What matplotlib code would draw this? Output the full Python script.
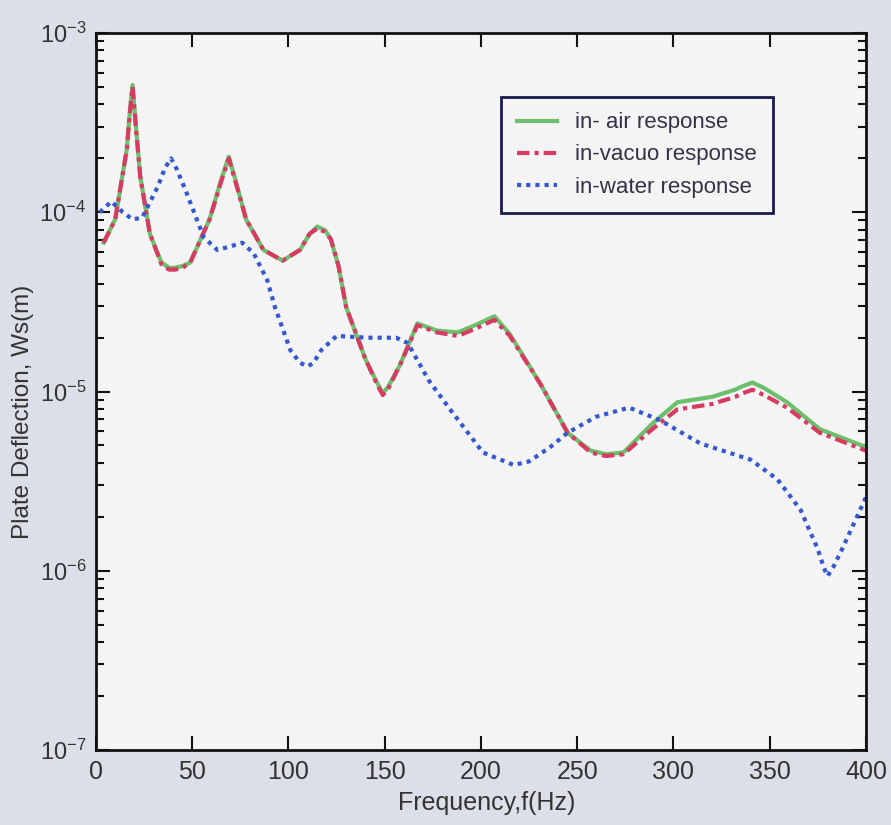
import numpy as np
import matplotlib
matplotlib.use("Agg")
import matplotlib.pyplot as plt
from matplotlib import font_manager
from matplotlib.ticker import LogLocator, FixedLocator, NullFormatter

# pick a narrow face for the tick labels if there is one
names = {f.name for f in font_manager.fontManager.ttflist}
narrow = "Liberation Sans Narrow" if "Liberation Sans Narrow" in names else "Liberation Sans"
plt.rcParams['font.family'] = ['Liberation Sans', 'DejaVu Sans']
plt.rcParams['mathtext.fontset'] = 'custom'
plt.rcParams['mathtext.rm'] = narrow
plt.rcParams['mathtext.it'] = narrow

# data (frequency in Hz, log10 of deflection in m)
f_air = [4, 10, 16, 17.5, 19, 21, 23, 28, 34, 38, 41, 45, 49, 59, 65, 69, 73, 78, 87, 97, 106,
         111, 115, 119, 122, 126, 130, 140, 146, 149, 152, 158, 167, 177, 188, 197, 207, 215,
         231, 245, 257, 265, 274, 289, 302, 320, 332, 336, 341, 347, 359, 376, 400]
lw_air = [-4.17, -4.04, -3.65, -3.45, -3.29, -3.55, -3.80, -4.12, -4.28, -4.31, -4.31, -4.30,
          -4.28, -4.04, -3.82, -3.69, -3.84, -4.04, -4.21, -4.27, -4.21, -4.12, -4.08, -4.10,
          -4.15, -4.30, -4.53, -4.82, -4.95, -5.01, -4.97, -4.85, -4.62, -4.66, -4.67, -4.63,
          -4.58, -4.68, -4.96, -5.23, -5.33, -5.35, -5.34, -5.18, -5.06, -5.03, -4.99, -4.97,
          -4.95, -4.98, -5.06, -5.21, -5.31]
lw_vac = [-4.17, -4.04, -3.65, -3.46, -3.30, -3.56, -3.80, -4.12, -4.29, -4.32, -4.32, -4.31,
          -4.28, -4.04, -3.83, -3.70, -3.85, -4.04, -4.21, -4.27, -4.21, -4.12, -4.09, -4.11,
          -4.15, -4.30, -4.53, -4.82, -4.96, -5.02, -4.98, -4.85, -4.63, -4.67, -4.69, -4.65,
          -4.60, -4.69, -4.96, -5.23, -5.34, -5.36, -5.35, -5.21, -5.10, -5.07, -5.03, -5.01,
          -4.99, -5.02, -5.09, -5.23, -5.33]

f_water = [2, 5, 8, 14, 19, 24, 32, 36, 39, 42, 47, 56, 63, 70, 76, 82, 89, 93, 101, 106, 110,
           113, 117, 125, 141, 156, 162, 173, 184, 201, 217, 225, 236, 245, 260, 277, 293, 314,
           340, 354, 366, 375, 378, 380, 383, 388, 400]
lw_water = [-4.00, -3.97, -3.94, -4.00, -4.04, -4.03, -3.86, -3.75, -3.70, -3.76, -3.89, -4.14,
            -4.21, -4.19, -4.17, -4.23, -4.38, -4.53, -4.77, -4.84, -4.86, -4.84, -4.77, -4.69,
            -4.70, -4.70, -4.73, -4.94, -5.10, -5.34, -5.41, -5.39, -5.31, -5.23, -5.14, -5.09,
            -5.16, -5.29, -5.38, -5.49, -5.66, -5.88, -5.98, -6.03, -5.98, -5.87, -5.59]

labels = ['in- air response', 'in-vacuo response', 'in-water response']

fig = plt.figure(figsize=(8.91, 8.25), dpi=100, facecolor='#dcdfe7')
ax = fig.add_axes([0.1077, 0.0909, 0.8642, 0.8691], facecolor='#f4f4f4')

ax.plot(f_air, 10 ** np.array(lw_air), color='#6cbf6c', lw=3, label=labels[0])
ax.plot(f_air, 10 ** np.array(lw_vac), color='#d83a62', lw=3, ls=(0, (3, 1.2, 1, 1.2)),
        label=labels[1])
ax.plot(f_water, 10 ** np.array(lw_water), color='#3558d0', lw=3, ls=(0, (1, 1.2)),
        label=labels[2])

ax.set_yscale('log')
ax.set_xlim(0, 400)
ax.set_ylim(1e-7, 1e-3)
ax.xaxis.set_major_locator(FixedLocator(range(0, 401, 50)))
ax.yaxis.set_major_locator(FixedLocator([1e-7, 1e-6, 1e-5, 1e-4, 1e-3]))
ax.yaxis.set_minor_locator(LogLocator(base=10, subs=np.arange(2, 10)))
ax.yaxis.set_minor_formatter(NullFormatter())
ax.set_yticklabels([r'$10^{-7}$', r'$10^{-6}$', r'$10^{-5}$', r'$10^{-4}$', r'$10^{-3}$'],
                   fontsize=17)
ax.set_xticklabels([str(v) for v in range(0, 401, 50)], family=narrow, fontsize=18)

ax.tick_params(which='both', direction='in', top=True, right=True, width=1.5, colors='#111111',
               labelcolor='#333333')
ax.tick_params(which='major', length=10, pad=7)
ax.tick_params(which='minor', length=6)
for s in ax.spines.values():
    s.set_linewidth(2)
    s.set_color('#111111')

ax.set_xlabel('Frequency,f(Hz)', fontsize=18, family=narrow, color='#333333')
ax.xaxis.set_label_coords(0.508, -0.057)
ax.set_ylabel('Plate Deflection, Ws(m)', fontsize=17.5, color='#333333')
ax.yaxis.set_label_coords(-0.08, 0.471)

leg = ax.legend(loc='upper right', bbox_to_anchor=(0.879, 0.911), fontsize=16, frameon=True,
                fancybox=False, handlelength=1.8, handletextpad=0.85, borderpad=0.7,
                labelspacing=0.5, borderaxespad=0)
leg.get_frame().set_edgecolor('#1a1a4a')
leg.get_frame().set_linewidth(2)
leg.get_frame().set_facecolor('#f4f4f4')
leg.get_frame().set_alpha(1)
for t in leg.get_texts():
    t.set_color('#333344')

fig.savefig('out.png', dpi=100, facecolor=fig.get_facecolor())
